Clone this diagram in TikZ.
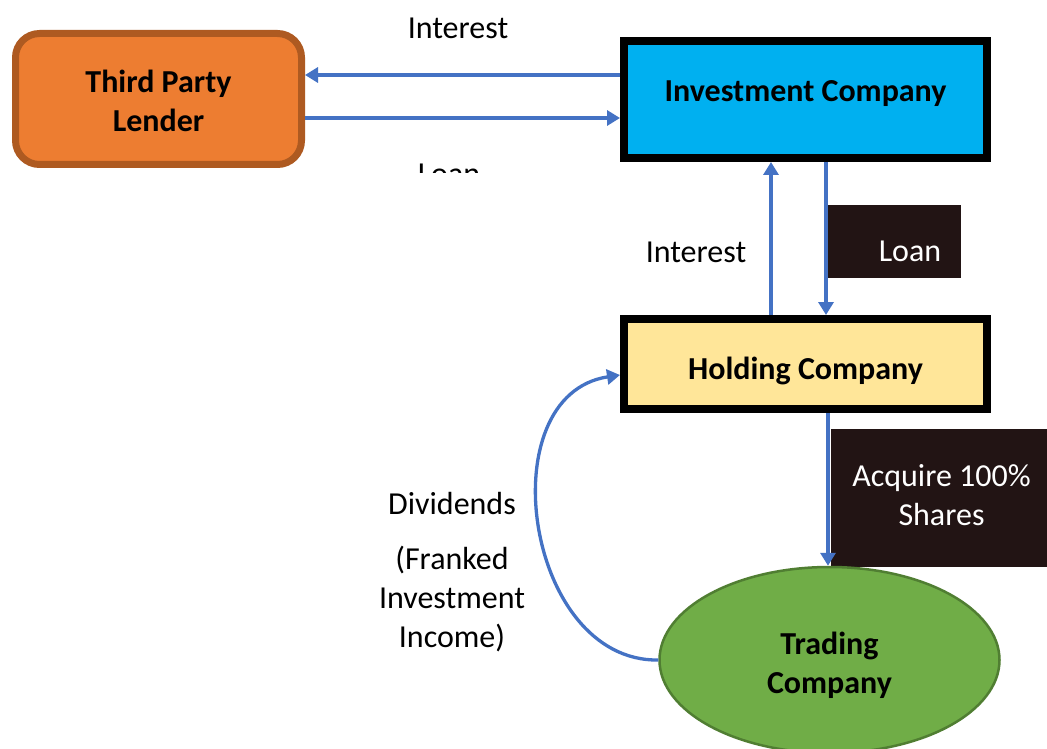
\documentclass[tikz,border=0pt]{standalone}
\usepackage{fontspec}
\setmainfont{Carlito}
\usetikzlibrary{shapes.geometric,arrows.meta}
\definecolor{lendfill}{HTML}{ED7D31}
\definecolor{lenddraw}{HTML}{AE5A21}
\definecolor{invfill}{HTML}{00B0F0}
\definecolor{holdfill}{HTML}{FFE699}
\definecolor{tradefill}{HTML}{70AD47}
\definecolor{tradedraw}{HTML}{507E32}
\definecolor{arrblue}{HTML}{4472C4}
\definecolor{tagfill}{HTML}{221414}
\newcommand{\twolines}[3]{\raisebox{#1}[0pt][0pt]{\begin{tabular}{@{}c@{}}#2\\#3\end{tabular}}}
\begin{document}
\begin{tikzpicture}[x=1pt,y=-1pt,
  basefont/.style={font=\fontsize{32}{39}\selectfont},
  boldfont/.style={font=\fontsize{32}{39}\selectfont\bfseries},
  companybox/.style={boldfont, draw=black, line width=8pt, minimum width=363pt, inner sep=0pt},
  flow/.style={draw=arrblue, line width=3.3pt, -{Triangle[width=15pt,length=13pt]}},
  tagbox/.style={basefont, fill=tagfill, text=white, inner sep=0pt, outer sep=0pt, align=center},
  lbl/.style={basefont, anchor=base, inner sep=0pt, outer sep=0pt, align=center}]

\useasboundingbox (0,0) rectangle (1047,749);
\clip (0,0) rectangle (1047,749);
\fill[white] (0,0) rectangle (1047,749);

% tag boxes (drawn first)
\node[tagbox, minimum width=133pt, minimum height=73pt] (loantag) at (894.5,241.5)
  {\raisebox{-19.5pt}[0pt][0pt]{\hspace*{31pt}Loan}};
\node[tagbox, minimum width=221pt, minimum height=138pt] (acqtag) at (941.5,498)
  {\twolines{-6.7pt}{Acquire 100\%}{Shares}};

% main boxes
\node[boldfont, draw=lenddraw, fill=lendfill, line width=7pt, rounded corners=24pt,
  minimum width=286pt, minimum height=131pt, inner sep=0pt] (lender) at (158.5,99)
  {\twolines{-11.7pt}{Third Party}{Lender}};
\node[companybox, fill=invfill, minimum height=117pt] (invest) at (805.5,99.5)
  {\raisebox{-2.5pt}[0pt][0pt]{Investment Company}};
\node[companybox, fill=holdfill, minimum height=90pt] (hold) at (805.5,364)
  {\raisebox{-15pt}[0pt][0pt]{Holding Company}};
\node[boldfont, ellipse, draw=tradedraw, fill=tradefill, line width=2.5pt,
  minimum width=340pt, minimum height=186pt, inner sep=0pt] (trade) at (829.5,660)
  {\twolines{-12.7pt}{Trading}{Company}};

% labels
\node[lbl] (intTop) at (458,39) {Interest};
\begin{scope}
  \clip (380,150) rectangle (540,173);
  \node[lbl] (loanTop) at (449,184) {Loan};
\end{scope}
\node[lbl] (intMid) at (696,262) {Interest};
\node[lbl] (div) at (452,514) {Dividends};
\node[lbl] (fii) at (452,647) {(Franked\\Investment\\Income)};

% connectors
\draw[flow] (invest.west |- 0,75) -- (lender.east |- 0,75);
\draw[flow] (lender.east |- 0,118) -- (invest.west |- 0,118);
\draw[flow] (hold.north -| 771,0) -- (invest.south -| 771,0);
\draw[flow] (invest.south -| 826,0) -- (hold.north -| 826,0);
\draw[flow] (hold.south -| 828,0) -- (trade.north -| 828,0);
\draw[flow] (trade.west) .. controls (525,662) and (488,395) .. (hold.west |- 0,375);
\end{tikzpicture}
\end{document}
